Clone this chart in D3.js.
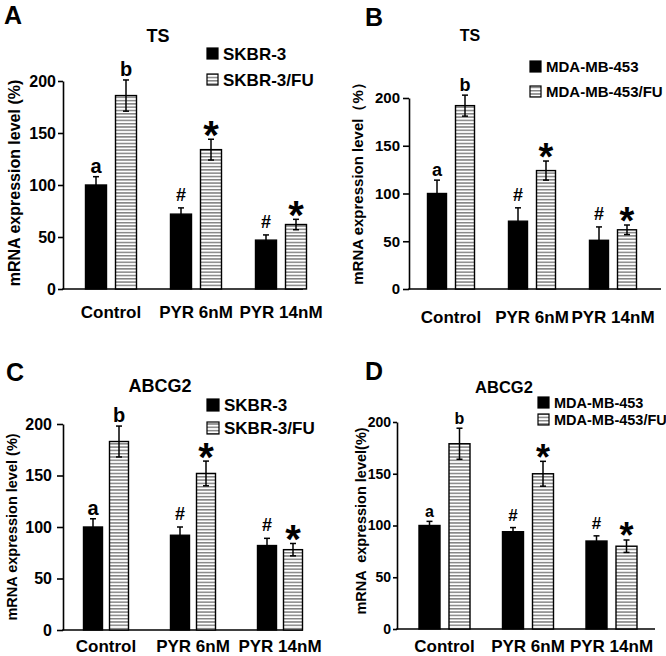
<!DOCTYPE html>
<html>
<head>
<meta charset="utf-8">
<script src="https://cdn.jsdelivr.net/npm/d3@7"></script>
<style>
  body { margin: 0; background: #fff; }
  text { font-family: "Liberation Sans", Arial, sans-serif; font-weight: bold; fill: #000; }
</style>
</head>
<body>
<script>
// groups and ticks shared by all four panels
const groups = ["Control", "PYR 6nM", "PYR 14nM"];
const yTicks = [0, 50, 100, 150, 200];

// TS, SKBR-3 pair
const tsSkbr = [100, 72, 47];
const tsSkbrErr = [8, 6, 5];
const tsSkbrFu = [186, 134, 62];
const tsSkbrFuErr = [15, 10, 5];

// TS, MDA-MB-453 pair
const tsMda = [100, 71, 51];
const tsMdaErr = [14, 14, 14];
const tsMdaFu = [192, 124, 62];
const tsMdaFuErr = [11, 10, 5];

// ABCG2, SKBR-3 pair
const abcgSkbr = [100, 92, 82];
const abcgSkbrErr = [8, 8, 7];
const abcgSkbrFu = [183, 152, 78];
const abcgSkbrFuErr = [15, 12, 6];

// ABCG2, MDA-MB-453 pair
const abcgMda = [100, 94, 85];
const abcgMdaErr = [4, 4, 5];
const abcgMdaFu = [179, 150, 80];
const abcgMdaFuErr = [15, 12, 6];

// significance marks over the parental / resistant bars
const sigParent = ["a", "#", "#"];
const sigResist = ["b", "*", "*"];

const skbrNames = ["SKBR-3", "SKBR-3/FU"];
const mdaNames = ["MDA-MB-453", "MDA-MB-453/FU"];

const svg = d3.select("body").append("svg")
    .attr("width", 666)
    .attr("height", 656);

// horizontal line fill for the resistant bars
const pat = svg.append("defs").append("pattern")
    .attr("id", "hatch")
    .attr("patternUnits", "userSpaceOnUse")
    .attr("width", 10)
    .attr("height", 3.3);
pat.append("rect").attr("width", 10).attr("height", 3.3).attr("fill", "#fff");
pat.append("line")
    .attr("x1", 0).attr("x2", 10)
    .attr("y1", 1.6).attr("y2", 1.6)
    .attr("stroke", "#444")
    .attr("stroke-width", 1);

const panels = [
    {
        letter: "A", lx: 4, ly: 24, title: "TS", tx: 158, ty: 42, titleFont: 18,
        yLabel: "mRNA expression level (%)", ylx: 14, yly: 183, yLabelFont: 16,
        axisX: 63, axisEnd: 303, yTop: 81, yBase: 289, band: [68.5, 323.5],
        off: 15, barW: 21, tick: 5, pad: 2, tickFont: 16, xFont: 17, xPad: 17,
        legX: 207, legY: [48, 74], legSize: 11, legFont: 17, names: skbrNames,
        abFont: 20, hashFont: 18, starFont: 40,
        parent: tsSkbr, parentErr: tsSkbrErr, resist: tsSkbrFu, resistErr: tsSkbrFuErr
    },
    {
        letter: "B", lx: 365, ly: 26, title: "TS", tx: 470, ty: 41, titleFont: 16,
        yLabel: "mRNA expression level（%）", ylx: 358, yly: 180, yLabelFont: 15,
        axisX: 409, axisEnd: 661, yTop: 98, yBase: 289, band: [410.5, 653.5],
        off: 14, barW: 19, tick: 6, pad: 3, tickFont: 15, xFont: 17, xPad: 22,
        legX: 530, legY: [61, 86], legSize: 11, legFont: 15, names: mdaNames,
        abFont: 18, hashFont: 18, starFont: 38,
        parent: tsMda, parentErr: tsMdaErr, resist: tsMdaFu, resistErr: tsMdaFuErr
    },
    {
        letter: "C", lx: 6, ly: 381, title: "ABCG2", tx: 160, ty: 392, titleFont: 18,
        yLabel: "mRNA expression level (%)", ylx: 12, yly: 527, yLabelFont: 14.5,
        axisX: 63, axisEnd: 303, yTop: 424, yBase: 630, band: [62.5, 323.5],
        off: 13, barW: 19, tick: 6, pad: 5, tickFont: 16, xFont: 17, xPad: 10,
        legX: 207, legY: [399, 422], legSize: 12, legFont: 17, names: skbrNames,
        abFont: 20, hashFont: 18, starFont: 40,
        parent: abcgSkbr, parentErr: abcgSkbrErr, resist: abcgSkbrFu, resistErr: abcgSkbrFuErr
    },
    {
        letter: "D", lx: 365, ly: 380, title: "ABCG2", tx: 504, ty: 393, titleFont: 16.5,
        yLabel: "mRNA  expression level(%)", ylx: 361, yly: 521, yLabelFont: 14.5,
        axisX: 397, axisEnd: 655, yTop: 422, yBase: 629, band: [402.75, 653.25],
        off: 15, barW: 21, tick: 4, pad: 2, tickFont: 14, xFont: 17, xPad: 11,
        legX: 538, legY: [397, 414], legSize: 11, legFont: 14.5, names: mdaNames,
        abFont: 16, hashFont: 17, starFont: 36,
        parent: abcgMda, parentErr: abcgMdaErr, resist: abcgMdaFu, resistErr: abcgMdaFuErr
    }
];

panels.forEach(drawPanel);

function drawPanel(p) {
    const g = svg.append("g");

    const y = d3.scaleLinear().domain([0, 200]).range([p.yBase, p.yTop]);
    const x = d3.scaleBand().domain(groups).range(p.band);

    // y axis with outward ticks
    const ya = g.append("g")
        .attr("transform", "translate(" + p.axisX + ",0)")
        .call(d3.axisLeft(y).tickValues(yTicks).tickSize(p.tick).tickPadding(p.pad).tickSizeOuter(0));
    ya.selectAll("path, line").attr("stroke", "#000").attr("stroke-width", 1.6);
    ya.selectAll("text").style("font-size", p.tickFont + "px").attr("font-family", null);

    // category labels, no ticks
    const xa = g.append("g")
        .attr("transform", "translate(0," + p.yBase + ")")
        .call(d3.axisBottom(x).tickSize(0).tickPadding(p.xPad));
    xa.select(".domain").remove();
    xa.selectAll("text").style("font-size", p.xFont + "px").attr("font-family", null);

    g.append("line")
        .attr("x1", p.axisX - 0.8).attr("x2", p.axisEnd)
        .attr("y1", p.yBase).attr("y2", p.yBase)
        .attr("stroke", "#000").attr("stroke-width", 1.6);

    const series = [
        { means: p.parent, errs: p.parentErr, dx: -p.off, fill: "#000", sig: sigParent },
        { means: p.resist, errs: p.resistErr, dx: p.off, fill: "url(#hatch)", sig: sigResist }
    ];

    series.forEach(function(s) {
        const cx = function(d, i) { return x(groups[i]) + x.bandwidth() / 2 + s.dx; };

        g.selectAll(null)
            .data(s.means)
            .enter()
            .append("rect")
            .attr("x", function(d, i) { return cx(d, i) - p.barW / 2; })
            .attr("y", function(d) { return y(d); })
            .attr("width", p.barW)
            .attr("height", function(d) { return p.yBase - y(d); })
            .attr("fill", s.fill)
            .attr("stroke", "#000")
            .attr("stroke-width", 1.4);

        // error bars: stem plus caps at both ends
        const eb = g.selectAll(null)
            .data(s.means)
            .enter()
            .append("g")
            .attr("stroke", "#000")
            .attr("stroke-width", 1.5);
        eb.append("line")
            .attr("x1", cx).attr("x2", cx)
            .attr("y1", function(d, i) { return y(d + s.errs[i]); })
            .attr("y2", function(d, i) { return y(d - s.errs[i]); });
        [1, -1].forEach(function(sign) {
            eb.append("line")
                .attr("x1", function(d, i) { return cx(d, i) - 3; })
                .attr("x2", function(d, i) { return cx(d, i) + 3; })
                .attr("y1", function(d, i) { return y(d + sign * s.errs[i]); })
                .attr("y2", function(d, i) { return y(d + sign * s.errs[i]); });
        });

        // significance letters / symbols
        g.selectAll(null)
            .data(s.means)
            .enter()
            .append("text")
            .attr("text-anchor", "middle")
            .attr("x", cx)
            .attr("y", function(d, i) {
                const top = y(d + s.errs[i]);
                const m = s.sig[i];
                if (m === "*") return top + 0.37 * p.starFont - 5;
                if (m === "#") return top - 7;
                return top - 4;
            })
            .style("font-size", function(d, i) {
                const m = s.sig[i];
                return (m === "*" ? p.starFont : m === "#" ? p.hashFont : p.abFont) + "px";
            })
            .text(function(d, i) { return s.sig[i]; });
    });

    // legend
    p.names.forEach(function(name, i) {
        g.append("rect")
            .attr("x", p.legX)
            .attr("y", p.legY[i])
            .attr("width", p.legSize)
            .attr("height", p.legSize)
            .attr("fill", i === 0 ? "#000" : "url(#hatch)")
            .attr("stroke", "#000")
            .attr("stroke-width", 1.2);
        g.append("text")
            .attr("x", p.legX + p.legSize + 5)
            .attr("y", p.legY[i] + p.legSize / 2)
            .attr("dy", "0.36em")
            .style("font-size", p.legFont + "px")
            .text(name);
    });

    g.append("text")
        .attr("x", p.tx).attr("y", p.ty)
        .attr("text-anchor", "middle")
        .style("font-size", p.titleFont + "px")
        .text(p.title);

    g.append("text")
        .attr("x", p.lx).attr("y", p.ly)
        .style("font-size", "25px")
        .text(p.letter);

    g.append("text")
        .attr("transform", "translate(" + p.ylx + "," + p.yly + ") rotate(-90)")
        .attr("text-anchor", "middle")
        .attr("dy", "0.36em")
        .style("font-size", p.yLabelFont + "px")
        .style("white-space", "pre")
        .text(p.yLabel);
}
</script>
</body>
</html>
